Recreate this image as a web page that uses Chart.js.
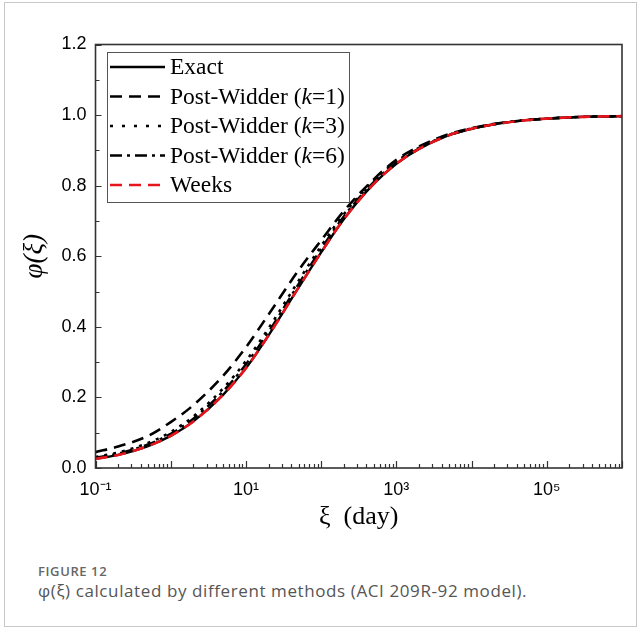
<!DOCTYPE html>
<html><head><meta charset="utf-8">
<script src="https://cdn.jsdelivr.net/npm/chart.js@4.4.1/dist/chart.umd.min.js"></script>
<style>
html,body{margin:0;padding:0;background:#fff;width:639px;height:630px;overflow:hidden}
#box{position:absolute;left:4px;top:2px;width:633px;height:625px;border:1px solid #c8c8c8;box-sizing:border-box}
#c{position:absolute;left:0;top:0}
#cap1{position:absolute;left:38px;top:562px;font:600 13px "Open Sans";color:#666;letter-spacing:0.6px}
#cap2{position:absolute;left:38px;top:579px;font:400 17px "Open Sans";color:#555;letter-spacing:0.6px}
</style></head>
<body>
<div id="box"></div>
<canvas id="c" width="639" height="545"></canvas>
<div id="cap1">FIGURE 12</div>
<div id="cap2">φ(ξ) calculated by different methods (ACI 209R-92 model).</div>
<script>
// ---- data ----
const xi          = [0.1, 0.2, 0.5, 1, 2, 5, 10, 20, 50, 100, 200, 500, 1000, 2000, 5000, 10000, 20000, 50000, 100000, 300000, 1000000];
const exact       = [0.026,0.037,0.062,0.091,0.132,0.208,0.283,0.376,0.511,0.611,0.705,0.805,0.862,0.904,0.943,0.961,0.974,0.985,0.990,0.995,0.997];
const postWidder1 = [0.045,0.061,0.091,0.130,0.178,0.262,0.342,0.435,0.560,0.645,0.728,0.818,0.873,0.911,0.946,0.963,0.975,0.985,0.990,0.995,0.997];
const postWidder3 = [0.031,0.044,0.071,0.102,0.146,0.226,0.303,0.396,0.530,0.629,0.719,0.814,0.868,0.907,0.944,0.962,0.974,0.985,0.990,0.995,0.997];
const postWidder6 = [0.029,0.041,0.067,0.097,0.140,0.218,0.294,0.386,0.521,0.621,0.713,0.810,0.865,0.905,0.943,0.961,0.974,0.985,0.990,0.995,0.997];
const weeks       = [0.026,0.037,0.062,0.091,0.132,0.208,0.283,0.376,0.511,0.611,0.705,0.805,0.862,0.904,0.943,0.961,0.974,0.985,0.990,0.995,0.997];

const xLabelTicks = [0.1, 10, 1000, 100000];
const xLabelText  = ['10⁻¹', '10¹', '10³', '10⁵'];
const xDecades    = [0.1, 1, 10, 100, 1000, 10000, 100000, 1000000];
const xMinorMult  = [2, 3, 4, 5, 6, 7, 8, 9];
const yTicks      = [0, 0.2, 0.4, 0.6, 0.8, 1.0, 1.2];
const yLabelText  = ['0.0', '0.2', '0.4', '0.6', '0.8', '1.0', '1.2'];
const yMinorTicks = [0.1, 0.3, 0.5, 0.7, 0.9, 1.1];

const legendItems = [
  {pre:'Exact', k:null, post:'', color:'#000', dash:[]},
  {pre:'Post-Widder (', k:'k', post:'=1)', color:'#000', dash:[12,7]},
  {pre:'Post-Widder (', k:'k', post:'=3)', color:'#000', dash:[3,9]},
  {pre:'Post-Widder (', k:'k', post:'=6)', color:'#000', dash:[12,5,3,5]},
  {pre:'Weeks', k:null, post:'', color:'#e8141c', dash:[12,7]}
];

const pts = arr => xi.map((x, i) => ({x: x, y: arr[i]}));
const ds = (label, arr, color, dash, w) => ({
  label, data: pts(arr), borderColor: color, borderDash: dash, borderWidth: w,
  pointRadius: 0, fill: false, cubicInterpolationMode: 'monotone'
});

const deco = {
  id: 'deco',
  afterDatasetsDraw(chart) {
    const ctx = chart.ctx, ca = chart.chartArea, xs = chart.scales.x, ys = chart.scales.y;
    ctx.save();
    ctx.strokeStyle = '#333';
    ctx.lineWidth = 1.2;
    ctx.beginPath();
    xDecades.forEach(d => {
      const px = Math.round(xs.getPixelForValue(d)) + 0.5;
      ctx.moveTo(px, ca.bottom); ctx.lineTo(px, ca.bottom - 7);
      if (d < 1000000) xMinorMult.forEach(m => {
        const p = Math.round(xs.getPixelForValue(d * m)) + 0.5;
        ctx.moveTo(p, ca.bottom); ctx.lineTo(p, ca.bottom - 4);
      });
    });
    yTicks.forEach(v => { const py = Math.round(ys.getPixelForValue(v)) + 0.5; ctx.moveTo(ca.left, py); ctx.lineTo(ca.left + 6, py); });
    yMinorTicks.forEach(v => { const py = Math.round(ys.getPixelForValue(v)) + 0.5; ctx.moveTo(ca.left, py); ctx.lineTo(ca.left + 4, py); });
    ctx.stroke();
    ctx.lineWidth = 1.6;
    ctx.strokeRect(ca.left, ca.top, ca.right - ca.left, ca.bottom - ca.top);

    // legend
    const lx = ca.left + 11.5, ly = ca.top + 7.5, lw = 242, lh = 150;
    ctx.fillStyle = '#fff';
    ctx.fillRect(lx, ly, lw, lh);
    ctx.strokeStyle = '#555';
    ctx.lineWidth = 1;
    ctx.strokeRect(lx + 0.5, ly + 0.5, lw, lh);
    legendItems.forEach((it, i) => {
      const y = ly + 15 + i * 29.5;
      ctx.beginPath();
      ctx.setLineDash(it.dash);
      ctx.strokeStyle = it.color;
      ctx.lineWidth = 2.6;
      ctx.moveTo(lx + 3, y); ctx.lineTo(lx + 58, y);
      ctx.stroke();
      ctx.setLineDash([]);
      ctx.fillStyle = '#000';
      ctx.textBaseline = 'middle';
      ctx.textAlign = 'left';
      let tx = lx + 63;
      ctx.font = '23.5px "Liberation Serif"';
      ctx.fillText(it.pre, tx, y + 1);
      tx += ctx.measureText(it.pre).width;
      if (it.k) {
        ctx.font = 'italic 23.5px "Liberation Serif"';
        ctx.fillText(it.k, tx, y + 1);
        tx += ctx.measureText(it.k).width;
        ctx.font = '23.5px "Liberation Serif"';
        ctx.fillText(it.post, tx, y + 1);
      }
    });
    ctx.restore();
  }
};

new Chart(document.getElementById('c'), {
  type: 'line',
  data: {
    datasets: [
      ds('Weeks', weeks, '#e8141c', [12,7], 2.6),
      ds('Post-Widder (k=6)', postWidder6, '#000', [12,5,3,5], 2.4),
      ds('Post-Widder (k=3)', postWidder3, '#000', [3,6], 2.6),
      ds('Post-Widder (k=1)', postWidder1, '#000', [12,7], 2.6),
      ds('Exact', exact, '#000', [], 2.4)
    ]
  },
  options: {
    responsive: false,
    animation: false,
    devicePixelRatio: 1,
    layout: {padding: {left: 4, right: 17, top: 44.5, bottom: 0}},
    plugins: {legend: {display: false}, tooltip: {enabled: false}},
    scales: {
      x: {
        type: 'logarithmic', min: 0.1, max: 1000000,
        grid: {display: false, drawTicks: false}, border: {display: false},
        afterBuildTicks: s => { s.ticks = xLabelTicks.map(v => ({value: v})); },
        afterFit: s => { s.height = 77; },
        ticks: {autoSkip: false, maxRotation: 0, padding: 11, color: '#000',
          font: {family: '"Liberation Sans", Arial', size: 18},
          callback: (v, i) => xLabelText[i]},
        title: {display: true, text: 'ξ  (day)', color: '#000', padding: {top: 0, bottom: 12},
          font: {family: '"Liberation Serif"', size: 26}}
      },
      y: {
        min: 0, max: 1.2,
        grid: {display: false, drawTicks: false}, border: {display: false},
        afterBuildTicks: s => { s.ticks = yTicks.map(v => ({value: v})); },
        afterFit: s => { s.width = 91.5; },
        ticks: {padding: 9, color: '#000', font: {family: '"Liberation Sans", Arial', size: 18},
          callback: (v, i) => yLabelText[i]},
        title: {display: true, text: 'φ(ξ)', color: '#000', padding: {top: 15, bottom: 0},
          font: {family: '"Liberation Serif"', size: 27, style: 'italic'}}
      }
    }
  },
  plugins: [deco]
});
</script>
</body></html>
